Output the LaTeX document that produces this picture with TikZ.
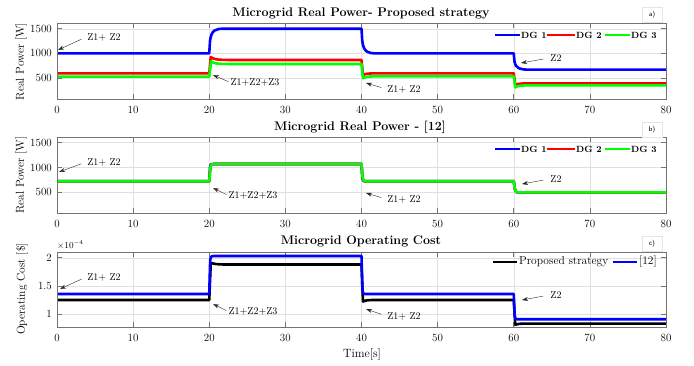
\documentclass[tikz,border=0pt]{standalone}
\usetikzlibrary{arrows.meta}
\definecolor{mblue}{RGB}{0,0,255}
\definecolor{mred}{RGB}{255,0,0}
\definecolor{mgreen}{RGB}{0,255,0}
\begin{document}
\begin{tikzpicture}[x=1pt,y=-1pt,
  ticklab/.style={font=\fontsize{11}{13}\selectfont, inner sep=0pt},
  axlab/.style={font=\fontsize{11.5}{14}\selectfont, rotate=90, inner sep=0pt},
  ttl/.style={font=\fontsize{12.5}{15}\selectfont\bfseries, inner sep=0pt},
  ann/.style={font=\fontsize{10}{12}\selectfont, inner sep=1pt},
  annarrow/.style={-{Stealth[length=6pt,width=4pt]}, line width=0.4pt, black!85},
  gridline/.style={black!12, line width=0.4pt},
  axbox/.style={black!55, line width=0.6pt},
  dline/.style={line width=2.6pt, line join=round},
  leglab/.style={font=\fontsize{9}{11}\selectfont\bfseries, inner sep=0pt, anchor=west},
  leglab2/.style={font=\fontsize{11.5}{13}\selectfont, inner sep=0pt, anchor=west},
  tag/.style={font=\sffamily\fontsize{7}{8}\selectfont, draw=black!10, line width=0.3pt, minimum width=20pt, minimum height=15pt, inner sep=1pt}
]
\useasboundingbox (0,0) rectangle (694,365);

% ================= Panel 1 =================
\begin{scope}[xshift=57pt, yshift=-102.65pt, x=7.6125pt, y=0.0493pt]
  \foreach \t in {0,10,...,80} {
    \draw[gridline] (\t,74) -- (\t,1616);
    \draw[axbox] (\t,74) -- ++(0pt,5pt);
    \draw[axbox] (\t,1616) -- ++(0pt,-5pt);
    \node[ticklab, anchor=north] (p1x\t) at ([yshift=-7pt]\t,74) {\t};
  }
  \foreach \v in {500,1000,1500} {
    \draw[gridline] (0,\v) -- (80,\v);
    \draw[axbox] (0,\v) -- ++(5pt,0pt);
    \draw[axbox] (80,\v) -- ++(-5pt,0pt);
    \node[ticklab, anchor=east] (p1y\v) at ([xshift=-5pt]0,\v) {\v};
  }
  \draw[dline, mblue] (0,1000) -- (20,1000) -- (20.1,1250) .. controls (20.3,1480) and (20.8,1500) .. (22,1500) -- (40,1500) -- (40.1,1250) .. controls (40.3,1020) and (40.8,1000) .. (42,1000) -- (60,1000) -- (60.1,830) .. controls (60.3,690) and (60.8,670) .. (62,670) -- (80,670);
  \draw[dline, mred] (0,595) -- (20,595) -- (20.2,925) .. controls (20.6,880) and (21,868) .. (22.5,866) -- (40,866) -- (40.2,560) .. controls (40.5,590) and (41,595) .. (42.5,595) -- (60,595) -- (60.2,360) .. controls (60.5,385) and (61,392) .. (62.5,392) -- (80,392);
  \draw[dline, mgreen] (0,528) -- (20,528) -- (20.25,840) .. controls (20.6,795) and (21,786) .. (22.5,785) -- (40,785) -- (40.2,495) .. controls (40.5,528) and (41,534) .. (42.5,534) -- (60,534) -- (60.2,310) .. controls (60.5,345) and (61,352) .. (62.5,352) -- (80,352);
  \draw[axbox] (0,74) rectangle (80,1616);
\end{scope}
\node[axlab] (p1yl) at (21,61.5) {Real Power [W]};
\node[ttl] (p1t) at (361,13) {Microgrid Real Power- Proposed strategy};
\node[tag] (p1tag) at (652,15) {a)};
% legend 1
\draw[dline, mblue] (495,35) -- (520,35);
\node[leglab] (p1l1) at (521,35) {DG 1};
\draw[dline, mred] (547,35) -- (575,35);
\node[leglab] (p1l2) at (576,35) {DG 2};
\draw[dline, mgreen] (605,35) -- (630,35);
\node[leglab] (p1l3) at (631,35) {DG 3};
% annotations 1
\node[ann] (p1a) at (104,37) {Z1+ Z2};
\coordinate (p1ah) at (58,50);
\draw[annarrow, shorten <=5pt] (p1a.west) -- (p1ah);
\node[ann] (p1b) at (255,82) {Z1+Z2+Z3};
\coordinate (p1bh) at (213,75);
\draw[annarrow, shorten <=1pt] (p1b.west) -- (p1bh);
\node[ann] (p1c) at (404,89) {Z1+ Z2};
\coordinate (p1ch) at (366,83);
\draw[annarrow, shorten <=5pt] (p1c.west) -- (p1ch);
\node[ann] (p1d) at (556,58) {Z2};
\coordinate (p1dh) at (521,63);
\draw[annarrow, shorten <=6pt] (p1d.west) -- (p1dh);

% ================= Panel 2 =================
\begin{scope}[xshift=57pt, yshift=-217.1pt, x=7.6125pt, y=0.0496pt]
  \foreach \t in {0,10,...,80} {
    \draw[gridline] (\t,83) -- (\t,1615);
    \draw[axbox] (\t,83) -- ++(0pt,5pt);
    \draw[axbox] (\t,1615) -- ++(0pt,-5pt);
    \node[ticklab, anchor=north] (p2x\t) at ([yshift=-7pt]\t,83) {\t};
  }
  \foreach \v in {500,1000,1500} {
    \draw[gridline] (0,\v) -- (80,\v);
    \draw[axbox] (0,\v) -- ++(5pt,0pt);
    \draw[axbox] (80,\v) -- ++(-5pt,0pt);
    \node[ticklab, anchor=east] (p2y\v) at ([xshift=-5pt]0,\v) {\v};
  }
  \draw[dline, mblue] (0,722) -- (20,722) -- (20.1,1000) .. controls (20.2,1070) .. (20.5,1070) -- (40,1070) -- (40.1,790) .. controls (40.25,715) .. (40.6,722) -- (60,722) -- (60.15,560) .. controls (60.3,498) .. (60.6,498) -- (80,498);
  \draw[dline, mred] (0,722) -- (20,722) -- (20.15,1000) .. controls (20.3,1070) .. (20.6,1070) -- (40,1070) -- (40.15,790) .. controls (40.3,722) .. (40.6,722) -- (60,722) -- (60.15,560) .. controls (60.3,498) .. (60.6,498) -- (80,498);
  \draw[dline, mgreen] (0,722) -- (20,722) -- (20.15,1000) .. controls (20.3,1070) .. (20.6,1070) -- (40,1070) -- (40.15,790) .. controls (40.3,722) .. (40.6,722) -- (60,722) -- (60.15,560) .. controls (60.3,498) .. (60.6,498) -- (80,498);
  \draw[axbox] (0,83) rectangle (80,1615);
\end{scope}
\node[axlab] (p2yl) at (21,175) {Real Power [W]};
\node[ttl] (p2t) at (360,127) {Microgrid Real Power - [12]};
\node[tag] (p2tag) at (652,130) {b)};
\draw[dline, mblue] (495,149) -- (520,149);
\node[leglab] (p2l1) at (521,149) {DG 1};
\draw[dline, mred] (547,149) -- (575,149);
\node[leglab] (p2l2) at (576,149) {DG 2};
\draw[dline, mgreen] (605,149) -- (630,149);
\node[leglab] (p2l3) at (631,149) {DG 3};
\node[ann] (p2a) at (104,162) {Z1+ Z2};
\coordinate (p2ah) at (59,172);
\draw[annarrow, shorten <=5pt] (p2a.west) -- (p2ah);
\node[ann] (p2b) at (253,195) {Z1+Z2+Z3};
\coordinate (p2bh) at (213,188);
\draw[annarrow, shorten <=1pt] (p2b.west) -- (p2bh);
\node[ann] (p2c) at (404,199) {Z1+ Z2};
\coordinate (p2ch) at (366,193);
\draw[annarrow, shorten <=5pt] (p2c.west) -- (p2ch);
\node[ann] (p2d) at (556,179) {Z2};
\coordinate (p2dh) at (522,184);
\draw[annarrow, shorten <=6pt] (p2d.west) -- (p2dh);

% ================= Panel 3 =================
\begin{scope}[xshift=57pt, yshift=-370.9pt, x=7.6125pt, y=56.6pt]
  \foreach \t in {0,10,...,80} {
    \draw[gridline] (\t,0.776) -- (\t,2.1);
    \draw[axbox] (\t,0.776) -- ++(0pt,5pt);
    \draw[axbox] (\t,2.1) -- ++(0pt,-5pt);
    \node[ticklab, anchor=north] (p3x\t) at ([yshift=-7pt]\t,0.776) {\t};
  }
  \foreach \v/\l in {1/1,1.5/1.5,2/2} {
    \draw[gridline] (0,\v) -- (80,\v);
    \draw[axbox] (0,\v) -- ++(5pt,0pt);
    \draw[axbox] (80,\v) -- ++(-5pt,0pt);
    \node[ticklab, anchor=east] (p3y\l) at ([xshift=-5pt]0,\v) {\l};
  }
  \draw[dline, black] (0,1.253) -- (20,1.253) -- (20.2,1.91) .. controls (20.6,1.89) and (21,1.882) .. (22,1.88) -- (40,1.88) -- (40.2,1.225) .. controls (40.5,1.25) and (41,1.253) .. (42,1.253) -- (60,1.253) -- (60.2,0.815) .. controls (60.5,0.834) and (61,0.836) .. (62,0.836) -- (80,0.836);
  \draw[dline, mblue] (0,1.358) -- (20,1.358) -- (20.12,1.96) .. controls (20.25,2.03) .. (20.5,2.03) -- (40,2.03) -- (40.12,1.42) .. controls (40.25,1.358) .. (40.5,1.358) -- (60,1.358) -- (60.12,0.97) .. controls (60.25,0.912) .. (60.5,0.912) -- (80,0.912);
  \draw[axbox] (0,0.776) rectangle (80,2.1);
\end{scope}
\node[axlab] (p3yl) at (22,289) {Operating Cost [\$]};
\node[ttl] (p3t) at (361,241) {Microgrid Operating Cost};
\node[tag] (p3tag) at (652,244) {c)};
\node[font=\fontsize{9}{11}\selectfont, inner sep=0pt, anchor=west] (p3exp) at (57,245) {$\times10^{-4}$};
\node[font=\fontsize{12}{14}\selectfont, inner sep=0pt] (p3xl) at (362,354) {Time[s]};
\draw[dline, black] (493,262) -- (517,262);
\node[leglab2] (p3l1) at (519,262) {Proposed strategy};
\draw[dline, mblue] (613,262) -- (637,262);
\node[leglab2] (p3l2) at (639,262) {[12]};
\node[ann] (p3a) at (104,277) {Z1+ Z2};
\coordinate (p3ah) at (60,289);
\draw[annarrow, shorten <=5pt] (p3a.west) -- (p3ah);
\node[ann] (p3b) at (253,311) {Z1+Z2+Z3};
\coordinate (p3bh) at (213,304);
\draw[annarrow, shorten <=1pt] (p3b.west) -- (p3bh);
\node[ann] (p3c) at (404,316) {Z1+ Z2};
\coordinate (p3ch) at (366,309);
\draw[annarrow, shorten <=5pt] (p3c.west) -- (p3ch);
\node[ann] (p3d) at (556,295) {Z2};
\coordinate (p3dh) at (522,300);
\draw[annarrow, shorten <=6pt] (p3d.west) -- (p3dh);
\end{tikzpicture}
\end{document}
